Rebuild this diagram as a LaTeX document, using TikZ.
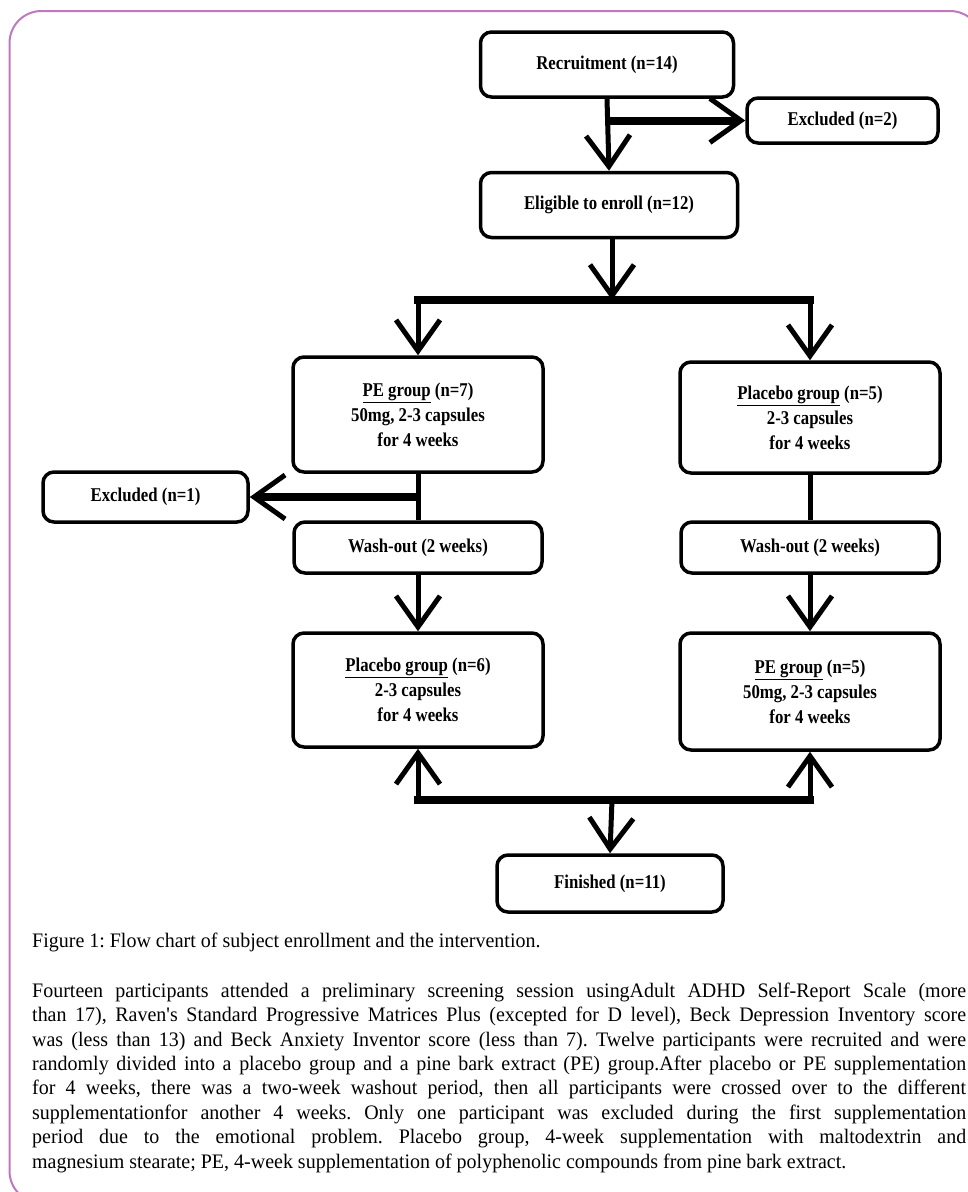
\documentclass[tikz,border=0pt]{standalone}
\usepackage{fontspec}
\setmainfont{Liberation Serif}
\newfontfamily\fcfont[FakeStretch=0.86]{Liberation Serif}
\newfontfamily\bodyfont[FakeStretch=0.97]{Liberation Serif}
\usetikzlibrary{arrows.meta}
\definecolor{framecol}{RGB}{190,120,190}
\frenchspacing
\tikzset{
  box/.style={draw=black, line width=3.5pt, rounded corners=11pt, fill=white,
    align=center, inner sep=2pt, font=\fcfont\bfseries\fontsize{19.5}{25}\selectfont},
  conn/.style={line width=5pt},
  barline/.style={line width=8pt, line cap=rect},
  arrowed/.style={-{Straight Barb[length=31pt,width=44pt,line width=5pt]}},
  frameline/.style={draw=framecol, line width=2pt, rounded corners=32pt},
  bodytext/.style={inner sep=0pt, font=\bodyfont\fontsize{20.6}{24.4}\selectfont},
}
\begin{document}
\begin{tikzpicture}[x=1pt,y=-1pt]
\useasboundingbox (0,0) rectangle (968,1192);
\begin{scope}
  \clip (0,0) rectangle (968,1192);
  \draw[frameline] (9.5,11) rectangle (982,1203);
\end{scope}

% boxes
\node[box, minimum width=253pt, minimum height=65pt] (rec) at (607,64.5) {Recruitment (n=14)};
\node[box, minimum width=191pt, minimum height=45pt] (exc2) at (842.5,120.5) {Excluded (n=2)};
\node[box, minimum width=257pt, minimum height=65pt] (elig) at (609,205) {Eligible to enroll (n=12)};
\node[box, minimum width=250pt, minimum height=115pt] (pe7) at (418,414.5) {\underline{PE group} (n=7)\\50mg, 2-3 capsules\\for 4 weeks};
\node[box, minimum width=260pt, minimum height=111pt] (pl5) at (810,417.5) {\underline{Placebo group} (n=5)\\2-3 capsules\\for 4 weeks};
\node[box, minimum width=205pt, minimum height=50pt] (exc1) at (145.5,497) {Excluded (n=1)};
\node[box, minimum width=248pt, minimum height=51pt] (wl) at (418,547.5) {Wash-out (2 weeks)};
\node[box, minimum width=258pt, minimum height=51pt] (wr) at (810,547.5) {Wash-out (2 weeks)};
\node[box, minimum width=250pt, minimum height=114pt] (pl6) at (418,690) {\underline{Placebo group} (n=6)\\2-3 capsules\\for 4 weeks};
\node[box, minimum width=260pt, minimum height=117pt] (pe5) at (810,691.5) {\underline{PE group} (n=5)\\50mg, 2-3 capsules\\for 4 weeks};
\node[box, minimum width=226pt, minimum height=57pt] (fin) at (610,883.5) {Finished (n=11)};

% helper coordinates
\coordinate (tb) at (612,300);
\coordinate (bb) at (612,800);

% recruitment
\draw[conn, arrowed] (rec.south) -- (elig.north);
\draw[barline, line cap=butt, arrowed] (rec.south |- exc2.west) -- (exc2.west);

% split
\draw[conn, arrowed] (elig.south -| tb) -- (tb);
\draw[barline] (pe7.north |- tb) -- (pl5.north |- tb);
\draw[conn, arrowed] (pe7.north |- tb) -- (pe7.north);
\draw[conn, arrowed] (pl5.north |- tb) -- (pl5.north);

% first period
\draw[conn] (pe7.south) -- (wl.north);
\draw[barline, line cap=butt, arrowed] (pe7.south |- exc1.east) -- (exc1.east);
\draw[conn] (pl5.south) -- (wr.north);

% wash-out
\draw[conn, arrowed] (wl.south) -- (pl6.north);
\draw[conn, arrowed] (wr.south) -- (pe5.north);

% merge
\draw[barline] (pl6.south |- bb) -- (pe5.south |- bb);
\draw[conn, arrowed] (pl6.south |- bb) -- (pl6.south);
\draw[conn, arrowed] (pe5.south |- bb) -- (pe5.south);
\draw[conn, arrowed] (bb) -- (fin.north);

% caption and text
\node[bodytext, anchor=base west] (cap) at (32,947)
  {Figure 1: Flow chart of subject enrollment and the intervention.};
\node[bodytext, anchor=north west, text width=934pt, align=justify] (body) at (32,982.5)
  {Fourteen participants attended a preliminary screening session usingAdult ADHD Self-Report Scale (more\linebreak
  than 17), Raven's Standard Progressive Matrices Plus (excepted for D level), Beck Depression Inventory score\linebreak
  was (less than 13) and Beck Anxiety Inventor score (less than 7). Twelve participants were recruited and were\linebreak
  randomly divided into a placebo group and a pine bark extract (PE) group.After placebo or PE supplementation\linebreak
  for 4 weeks, there was a two-week washout period, then all participants were crossed over to the different\linebreak
  supplementationfor another 4 weeks. Only one participant was excluded during the first supplementation\linebreak
  period due to the emotional problem. Placebo group, 4-week supplementation with maltodextrin and\linebreak
  magnesium stearate; PE, 4-week supplementation of polyphenolic compounds from pine bark extract.};
\end{tikzpicture}
\end{document}
